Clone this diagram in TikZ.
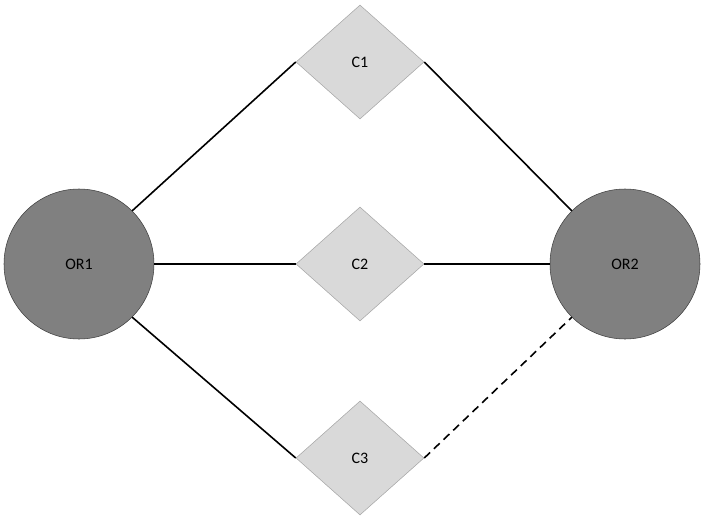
\documentclass[tikz,border=0pt]{standalone}
\usepackage{fontspec}
\setmainfont{Carlito}
\definecolor{RouterGray}{HTML}{808080}
\definecolor{RouterEdge}{HTML}{404040}
\definecolor{ChanFill}{HTML}{D9D9D9}
\definecolor{ChanEdge}{HTML}{A6A6A6}
\usetikzlibrary{shapes.geometric, positioning}
\tikzset{
  % Node styles
  orouter/.style={circle, draw=RouterEdge, fill=RouterGray, minimum size=112.5pt, inner sep=0pt, font=\large},
  chanbox/.style={diamond, draw=ChanEdge, fill=ChanFill, minimum width=96pt, minimum height=85.5pt, inner sep=0pt, font=\large},
  % Line styles
  link/.style={line width=1.2pt, black},
  dashedlink/.style={line width=1.2pt, black, dash pattern=on 6pt off 4pt}
}
\begin{document}
\begin{tikzpicture}[x=0.75pt, y=-0.75pt]
  \useasboundingbox (0,0) rectangle (704,521);
  % Routers
  \node[orouter] (or1) at (79,264) {OR1};
  \node[orouter] (or2) at (625,264) {OR2};
  % Channels
  \node[chanbox] (c1) at (360,62) {C1};
  \node[chanbox] (c2) at (360,264) {C2};
  \node[chanbox] (c3) at (360,458) {C3};
  % Links
  \draw[link] (or1.45) -- (c1.west);
  \draw[link] (c1.east) -- (or2.135);
  \draw[link] (or1.east) -- (c2.west);
  \draw[link] (c2.east) -- (or2.west);
  \draw[link] (or1.-45) -- (c3.west);
  \draw[dashedlink] (c3.east) -- (or2.-135);
\end{tikzpicture}
\end{document}
